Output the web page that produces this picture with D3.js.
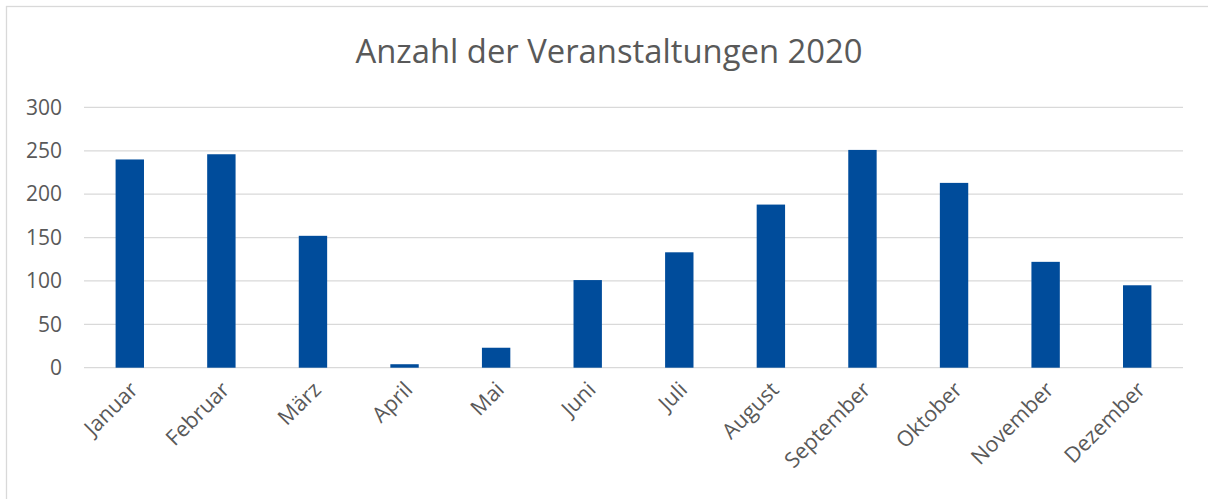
<!DOCTYPE html>
<html>
<head>
<meta charset="utf-8">
<script src="https://cdn.jsdelivr.net/npm/d3@7"></script>
<style>
  body { margin: 0; background: #fff; }
  svg { display: block; }
</style>
</head>
<body>
<div id="chart"></div>
<script>
// Anzahl der Veranstaltungen pro Monat
const months = ["Januar", "Februar", "März", "April", "Mai", "Juni", "Juli",
                "August", "September", "Oktober", "November", "Dezember"];
const counts = [240, 246, 152, 4, 23, 101, 133, 188, 251, 213, 122, 95];
const yTicks = [0, 50, 100, 150, 200, 250, 300];

const width = 1208, height = 499;
const font = "'Open Sans', 'Noto Sans', sans-serif";

const svg = d3.select("#chart")
  .append("svg")
    .attr("width", width)
    .attr("height", height);

// chart frame (runs off the right/bottom edge)
svg.append("rect")
  .attr("x", 6.5).attr("y", 6.5)
  .attr("width", width + 10).attr("height", height + 10)
  .attr("fill", "#fff")
  .attr("stroke", "#d9d9d9")
  .attr("stroke-width", 1.3);

var x = d3.scaleBand()
  .domain(months)
  .range([84, 1183])
  .paddingInner(0.69)
  .paddingOuter(0.345);

var y = d3.scaleLinear()
  .domain([0, 300])
  .range([367.7, 107.4]);

// gridlines
svg.append("g")
  .selectAll("line")
  .data(yTicks)
  .enter()
    .append("line")
      .attr("x1", 84)
      .attr("x2", 1183)
      .attr("y1", d => y(d))
      .attr("y2", d => y(d))
      .attr("stroke", "#d9d9d9")
      .attr("stroke-width", 1.3);

// y axis labels
var yAxis = svg.append("g")
  .attr("transform", "translate(62,0)")
  .call(d3.axisLeft(y).tickValues(yTicks).tickSize(0).tickPadding(0));
yAxis.select(".domain").remove();
yAxis.selectAll("text")
  .attr("fill", "#595959")
  .style("font-family", font)
  .style("font-size", "21px");

// bars
svg.append("g")
  .selectAll("rect")
  .data(counts)
  .enter()
    .append("rect")
      .attr("x", (d, i) => x(months[i]))
      .attr("width", x.bandwidth())
      .attr("y", d => y(d))
      .attr("height", d => y(0) - y(d))
      .attr("fill", "#004c9b");

// x axis labels, rotated
var xAxis = svg.append("g")
  .attr("transform", "translate(0," + y(0) + ")")
  .call(d3.axisBottom(x).tickSize(0).tickPadding(0));
xAxis.select(".domain").remove();
xAxis.selectAll("text")
  .attr("fill", "#595959")
  .style("font-family", font)
  .style("font-size", "21.5px")
  .attr("text-anchor", "end")
  .attr("dy", "0.35em")
  .attr("transform", "translate(4,18) rotate(-45)");

// title
var title = svg.append("text")
  .attr("x", 609)
  .attr("y", 63)
  .attr("text-anchor", "middle")
  .attr("fill", "#595959")
  .style("font-family", font)
  .style("font-size", "31px")
  .text("Anzahl der Veranstaltungen 2020");

// fit the title to the width seen in the reference
var tw = title.node().getComputedTextLength();
title.style("font-size", (31 * 507 / tw).toFixed(1) + "px");
</script>
</body>
</html>
